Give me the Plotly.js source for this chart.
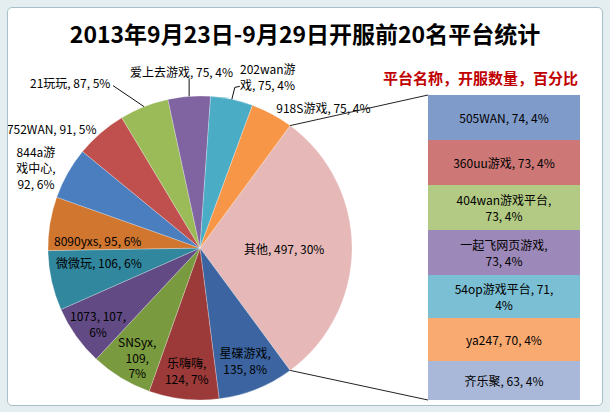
<!DOCTYPE html>
<html>
<head>
<meta charset="utf-8">
<script src="https://cdn.plot.ly/plotly-3.0.1.min.js"></script>
<style>
html,body{margin:0;padding:0;background:#e4edf0;width:610px;height:412px;overflow:hidden;}
#frame{position:absolute;left:7px;top:7px;width:594px;height:397px;background:#fff;border:1px solid #a9bfc8;border-radius:5px;}
#chart{position:absolute;left:0;top:0;width:594px;height:397px;}
</style>
</head>
<body>
<div id="frame"><div id="chart"></div></div>
<script>
// ---- data ----
var pieNames = ['其他','星碟游戏','乐嗨嗨','SNSyx','1073','微微玩','8090yxs','844a游戏中心','752WAN','21玩玩','爱上去游戏','202wan游戏','918S游戏'];
var pieValues = [497,135,124,109,107,106,95,92,91,87,75,75,75];
var barNames = ['505WAN','360uu游戏','404wan游戏平台','一起飞网页游戏','54op游戏平台','ya247','齐乐聚'];
var barValues = [74,73,73,73,71,70,63];
var titleText = '2013年9月23日-9月29日开服前20名平台统计';
var legendText = '平台名称，开服数量，百分比';

// ---- styles ----
var pieColors = ['#E6B9B8','#3B64A0','#9B3A38','#7A9A3F','#624B84','#31879E','#D0762F','#4A7EBE','#C0504D','#9BBB59','#8064A2','#4BACC6','#F79646'];
var barColors = ['#7F9BCA','#CD7876','#B2CA83','#9D89B9','#7BBFD4','#F9AA70','#A9B8D8'];
// display names with line wrapping
var pieWrapped = ['其他','星碟游戏','乐嗨嗨','SNSyx','1073','微微玩','8090yxs','844a游<br>戏中心','752WAN','21玩玩','爱上去游戏','202wan游<br>戏','918S游戏'];
var pieTemplates = [
  '%{text}, %{value}, %{percent:.0%}',
  '%{text},<br>%{value}, %{percent:.0%}',
  '%{text},<br>%{value}, %{percent:.0%}',
  '%{text},<br>%{value},<br>%{percent:.0%}',
  '%{text}, %{value},<br>%{percent:.0%}',
  '%{text}, %{value}, %{percent:.0%}',
  '%{text}, %{value}, %{percent:.0%}',
  '%{text},<br>%{value}, %{percent:.0%}',
  '%{text}, %{value}, %{percent:.0%}',
  '%{text}, %{value}, %{percent:.0%}',
  '%{text}, %{value}, %{percent:.0%}',
  '%{text}, %{value}, %{percent:.0%}',
  '%{text}, %{value}, %{percent:.0%}'
];
// label placement style per slice: native inside/outside, or annotation
var piePositions = ['inside','inside','inside','none','none','none','none','outside','outside','none','none','none','outside'];
var annStyle = [null,null,null,
  {rf:0.80, yshift:-5},         // SNSyx
  {rf:0.82, yshift:-3},         // 1073
  {rf:0.68, yshift:8},          // 微微玩
  {rf:0.68, yshift:-9},         // 8090yxs
  null,null,
  {ax:-74, ay:-24, lead:[[-31,-21]]},          // 21玩玩
  {ax:-8, ay:-25, lead:[[0,-18]]},             // 爱上去
  {ax:36, ay:-23, lead:[[3,-12],[8,-13]]},     // 202wan
  null];
var barBreakAfterName = [false,false,true,true,false,false,false];
var barBreakBeforePct = [false,false,false,false,true,false,false];

var W = 594, H = 397;
var pieDomX = [40/W, 344/W];
var pieDomY = [1-392/H, 1-88/H];
var barDomX = [420/W, 572/W];
var barDomY = [1-392/H, 1-87/H];

var total = pieValues.reduce(function(a,b){return a+b;},0);
var barTotal = barValues.reduce(function(a,b){return a+b;},0);
var otherSpan = pieValues[0]/total*360;
var rotation = 90 - otherSpan/2;

var fontFam = '"Noto Sans CJK SC", "Noto Sans", sans-serif';
var labelFont = {family: fontFam, size:12, color:'#000'};

var traces = [{
  type:'pie',
  labels: pieNames,
  values: pieValues,
  text: pieWrapped,
  texttemplate: pieTemplates,
  textposition: piePositions,
  insidetextorientation: 'horizontal',
  sort:false,
  direction:'clockwise',
  rotation: rotation,
  marker:{colors: pieColors, line:{color:'rgba(255,255,255,0.5)', width:0.5}},
  textfont: labelFont,
  domain:{x: pieDomX, y: pieDomY},
  hoverinfo:'label+value+percent',
  showlegend:false
}];

barNames.forEach(function(n,i){
  var pct = Math.round(barValues[i]/total*100) + '%';
  var txt = n + ',' + (barBreakAfterName[i] ? '<br>' : ' ') + barValues[i] + ',' + (barBreakBeforePct[i] ? '<br>' : ' ') + pct;
  traces.push({
    type:'bar', x:['a'], y:[barValues[i]], name:n,
    marker:{color: barColors[i], line:{width:0}},
    text:[txt], textposition:'inside', insidetextanchor:'middle', textangle:0,
    textfont: labelFont,
    hoverinfo:'name+y', showlegend:false,
    xaxis:'x', yaxis:'y'
  });
});

// pie geometry (in div pixels) derived from the domain and the data
var cx = (pieDomX[0]+pieDomX[1])/2*W, cy = (1-(pieDomY[0]+pieDomY[1])/2)*H;
var r = Math.min((pieDomX[1]-pieDomX[0])*W, (pieDomY[1]-pieDomY[0])*H)/2;
function pt(angDeg, rad){var a = angDeg*Math.PI/180; return [cx + rad*Math.sin(a), cy - rad*Math.cos(a)];}
function px2p(p){return [p[0]/W, 1-p[1]/H];}
var pTop = pt(rotation, r), pBot = pt(rotation + otherSpan, r);
var shapes = [
  {type:'line', xref:'paper', yref:'paper', x0:pTop[0]/W, y0:1-pTop[1]/H, x1:barDomX[0], y1:barDomY[1], line:{color:'#222', width:1}},
  {type:'line', xref:'paper', yref:'paper', x0:pBot[0]/W, y0:1-pBot[1]/H, x1:barDomX[0], y1:barDomY[0], line:{color:'#222', width:1}}
];

var annotations = [{text: legendText, xref:'paper', yref:'paper', x:472/W, y:1-70/H, xanchor:'center', yanchor:'middle', showarrow:false,
    font:{family: fontFam, size:15, color:'#C00000', weight:'bold'}}];

// slice labels placed from each slice's mid angle
var cum = rotation;
pieValues.forEach(function(v,i){
  var span = v/total*360;
  var mid = cum + span/2;
  cum += span;
  var st = annStyle[i];
  if(!st) return;
  var pct = Math.round(v/total*100) + '%';
  var txt = pieTemplates[i].replace('%{text}', pieWrapped[i]).replace('%{value}', v).replace('%{percent:.0%}', pct);
  var p;
  if(st.rf){
    p = px2p(pt(mid, r*st.rf));
    annotations.push({text:txt, xref:'paper', yref:'paper', x:p[0], y:p[1], yshift:st.yshift||0,
      showarrow:false, font:labelFont, xanchor:'center', yanchor:'middle'});
  } else {
    var e = pt(mid, r);
    p = px2p([e[0]+st.ax, e[1]+st.ay]);
    annotations.push({text:txt, xref:'paper', yref:'paper', x:p[0], y:p[1],
      showarrow:false, font:labelFont, align:'left', xanchor:'center', yanchor:'middle'});
    var d = 'M' + (e[0]/W) + ',' + (1-e[1]/H);
    st.lead.forEach(function(o){ d += ' L' + ((e[0]+o[0])/W) + ',' + (1-(e[1]+o[1])/H); });
    shapes.push({type:'path', xref:'paper', yref:'paper', path:d, line:{color:'#111', width:1}});
  }
});

var layout = {
  width: W, height: H,
  margin:{l:0,r:0,t:0,b:0},
  paper_bgcolor:'rgba(0,0,0,0)', plot_bgcolor:'rgba(0,0,0,0)',
  title:{text: titleText, x:0.5, xanchor:'center', y:1-27/H, yanchor:'middle', yref:'container',
         font:{family: fontFam, size:23, color:'#000', weight:'bold'}},
  barmode:'stack', bargap:0,
  xaxis:{domain: barDomX, visible:false, range:[-0.5,0.5], fixedrange:true},
  yaxis:{domain: barDomY, visible:false, range:[barTotal, 0], autorange:false, fixedrange:true},
  shapes: shapes,
  annotations: annotations,
  showlegend:false
};

Plotly.newPlot('chart', traces, layout, {displayModeBar:false, staticPlot:true});
</script>
</body>
</html>
